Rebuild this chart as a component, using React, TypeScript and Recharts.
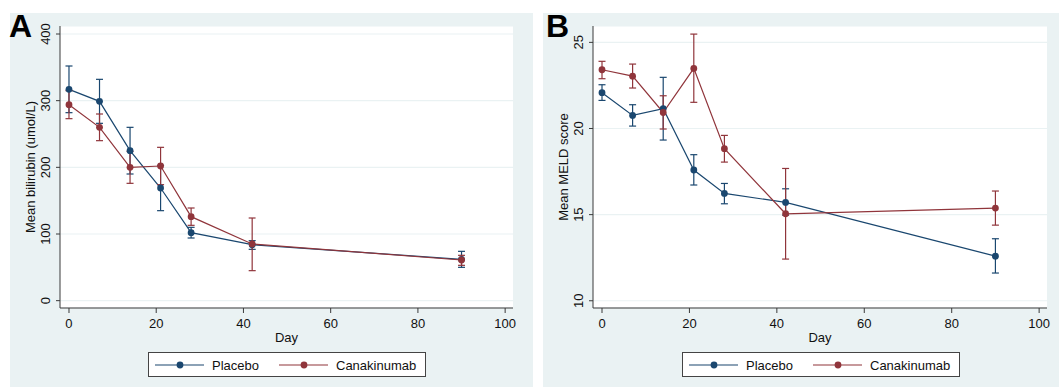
import React from "react";
import {
  ComposedChart,
  Line,
  XAxis,
  YAxis,
  CartesianGrid,
  ErrorBar,
} from "recharts";

// ---- data ----
const days = [0, 7, 14, 21, 28, 42, 90];
const dayTicks = [0, 20, 40, 60, 80, 100];

const biliTicks = [0, 100, 200, 300, 400];
const biliPlaceboMean = [317, 299, 225, 169, 102, 84, 62];
const biliPlaceboLow = [282, 266, 190, 135, 94, 77, 50];
const biliPlaceboHigh = [352, 332, 260, 203, 110, 90, 74];
const biliCanaMean = [294, 260, 200, 202, 126, 85, 61];
const biliCanaLow = [273, 240, 176, 174, 113, 45, 53];
const biliCanaHigh = [315, 280, 224, 230, 139, 124, 68];

const meldTicks = [10, 15, 20, 25];
const meldPlaceboMean = [22.08, 20.76, 21.15, 17.59, 16.23, 15.71, 12.59];
const meldPlaceboLow = [21.63, 20.14, 19.33, 16.72, 15.63, 14.97, 11.61];
const meldPlaceboHigh = [22.54, 21.38, 22.97, 18.48, 16.81, 16.5, 13.6];
const meldCanaMean = [23.41, 23.04, 20.93, 23.49, 18.83, 15.05, 15.38];
const meldCanaLow = [22.89, 22.35, 19.97, 21.52, 18.05, 12.42, 14.39];
const meldCanaHigh = [23.9, 23.74, 21.9, 25.48, 19.6, 17.68, 16.37];

const seriesNames = ["Placebo", "Canakinumab"];

// ---- styling ----
const NAVY = "#1a476f";
const MAROON = "#90353b";
const BG = "#eaf2f3";
const FONT = "'Liberation Sans', Arial, Helvetica, sans-serif";
const AXIS = "#3a3a3a";

function build(mean: number[], low: number[], high: number[]) {
  return days.map((d, i) => ({
    day: d,
    v: mean[i],
    err: [mean[i] - low[i], high[i] - mean[i]],
  }));
}

const YTick = (props: any) => {
  const { x, y, payload } = props;
  return (
    <text
      x={x - 4}
      y={y}
      transform={`rotate(-90, ${x - 4}, ${y})`}
      textAnchor="middle"
      fontSize={13}
      fontFamily={FONT}
      fill="#111"
    >
      {payload.value}
    </text>
  );
};

type PanelProps = {
  left: number;
  width: number;
  rightMargin: number;
  yDomain: [number, number];
  yTicks: number[];
  yLabel: string;
  placebo: any[];
  cana: any[];
};

const Panel = ({ left, width, rightMargin, yDomain, yTicks, yLabel, placebo, cana }: PanelProps) => (
  <div style={{ position: "absolute", left, top: 13, width, height: 374 }}>
    <ComposedChart
      width={width}
      height={374}
      margin={{ top: 13, right: rightMargin, bottom: 49, left: 0 }}
    >
      <CartesianGrid vertical={false} stroke={BG} strokeWidth={1.2} fill="#ffffff" />
      <XAxis
        dataKey="day"
        type="number"
        domain={[-2.06, 101.8]}
        ticks={dayTicks}
        allowDataOverflow
        height={30}
        tickSize={5}
        tickMargin={6}
        stroke={AXIS}
        tick={{ fontSize: 13, fontFamily: FONT, fill: "#111" }}
        label={{
          content: (p: any) => (
            <text
              x={p.viewBox.x + p.viewBox.width / 2}
              y={p.viewBox.y + 33.5}
              textAnchor="middle"
              fontSize={13}
              fontFamily={FONT}
              fill="#111"
            >
              Day
            </text>
          ),
        }}
      />
      <YAxis
        type="number"
        domain={yDomain}
        ticks={yTicks}
        allowDataOverflow
        width={50}
        tickSize={4}
        tickMargin={2}
        stroke={AXIS}
        tick={<YTick />}
        label={{
          content: (p: any) => {
            const cy = p.viewBox.y + p.viewBox.height / 2;
            return (
              <text
                x={25}
                y={cy}
                transform={`rotate(-90, 25, ${cy})`}
                textAnchor="middle"
                fontSize={13}
                fontFamily={FONT}
                fill="#111"
              >
                {yLabel}
              </text>
            );
          },
        }}
      />
      <Line
        data={placebo}
        dataKey="v"
        type="linear"
        stroke={NAVY}
        strokeWidth={1.2}
        dot={{ r: 3.4, fill: NAVY, stroke: NAVY, strokeWidth: 0 }}
        activeDot={false}
        isAnimationActive={false}
        name={seriesNames[0]}
      >
        <ErrorBar dataKey="err" width={3.5} stroke={NAVY} strokeWidth={1.2} direction="y" />
      </Line>
      <Line
        data={cana}
        dataKey="v"
        type="linear"
        stroke={MAROON}
        strokeWidth={1.2}
        dot={{ r: 3.4, fill: MAROON, stroke: MAROON, strokeWidth: 0 }}
        activeDot={false}
        isAnimationActive={false}
        name={seriesNames[1]}
      >
        <ErrorBar dataKey="err" width={3.5} stroke={MAROON} strokeWidth={1.2} direction="y" />
      </Line>
    </ComposedChart>
  </div>
);

const LegendBox = ({ left }: { left: number }) => (
  <div
    style={{
      position: "absolute",
      left,
      top: 352,
      width: 278,
      height: 25,
      boxSizing: "border-box",
      border: "1px solid #444",
      background: "#fff",
    }}
  >
    <svg width={276} height={23} style={{ display: "block" }}>
      <line x1={6} x2={55} y1={12} y2={12} stroke={NAVY} strokeWidth={1.2} />
      <circle cx={31} cy={12} r={3.4} fill={NAVY} />
      <text x={63} y={16.5} fontSize={13} fontFamily={FONT} fill="#111">
        {seriesNames[0]}
      </text>
      <line x1={130} x2={179} y1={12} y2={12} stroke={MAROON} strokeWidth={1.2} />
      <circle cx={155} cy={12} r={3.4} fill={MAROON} />
      <text x={187} y={16.5} fontSize={13} fontFamily={FONT} fill="#111">
        {seriesNames[1]}
      </text>
    </svg>
  </div>
);

export default function App() {
  const biliP = build(biliPlaceboMean, biliPlaceboLow, biliPlaceboHigh);
  const biliC = build(biliCanaMean, biliCanaLow, biliCanaHigh);
  const meldP = build(meldPlaceboMean, meldPlaceboLow, meldPlaceboHigh);
  const meldC = build(meldCanaMean, meldCanaLow, meldCanaHigh);
  return (
    <div
      style={{
        position: "absolute",
        left: 0,
        top: 0,
        width: 1059,
        height: 387,
        background: "#fff",
        overflow: "hidden",
        fontFamily: FONT,
      }}
    >
      <div style={{ position: "absolute", left: 10, top: 13, width: 523, height: 374, background: BG }} />
      <div style={{ position: "absolute", left: 543, top: 13, width: 516, height: 374, background: BG }} />
      <Panel
        left={10}
        width={523}
        rightMargin={20}
        yDomain={[-11, 412]}
        yTicks={biliTicks}
        yLabel="Mean bilirubin (umol/L)"
        placebo={biliP}
        cana={biliC}
      />
      <Panel
        left={543}
        width={516}
        rightMargin={12}
        yDomain={[9.58, 25.95]}
        yTicks={meldTicks}
        yLabel="Mean MELD score"
        placebo={meldP}
        cana={meldC}
      />
      <LegendBox left={148} />
      <LegendBox left={682} />
      <svg
        width={1059}
        height={387}
        style={{ position: "absolute", left: 0, top: 0, pointerEvents: "none" }}
      >
        <text x={9} y={36.5} fontSize={32} fontWeight="bold" fontFamily={FONT} fill="#000">
          A
        </text>
        <text x={546} y={36.5} fontSize={32} fontWeight="bold" fontFamily={FONT} fill="#000">
          B
        </text>
      </svg>
    </div>
  );
}
